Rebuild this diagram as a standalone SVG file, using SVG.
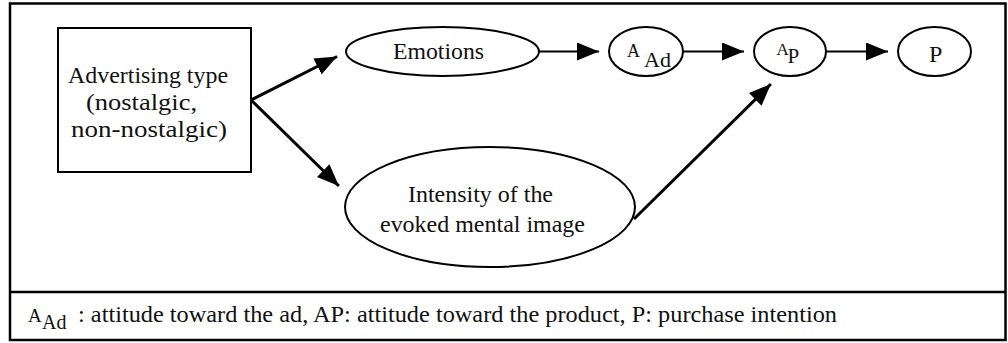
<svg xmlns="http://www.w3.org/2000/svg" width="1008" height="343" viewBox="0 0 1008 343">
  <style>
    .frame { fill: none; stroke: #000; stroke-width: 2.5; }
    .node { fill: #fff; stroke: #000; stroke-width: 2; }
    .edge { fill: none; stroke: #000; stroke-width: 2; }
    .edge.thick { stroke-width: 3; }
  </style>
  <defs>
    <marker id="arrow" viewBox="0 0 22 18" refX="22" refY="9" markerWidth="22" markerHeight="18" markerUnits="userSpaceOnUse" orient="auto">
      <path d="M0,0 L22,9 L0,18 Z" fill="#000"/>
    </marker>
  </defs>

  <rect width="1008" height="343" fill="#fff"/>

  <!-- outer frame with legend strip -->
  <g id="frame">
    <rect class="frame" x="10" y="3.5" width="995.5" height="336.5"/>
    <line class="frame" x1="10" y1="292" x2="1005.5" y2="292"/>
  </g>

  <!-- connectors -->
  <g id="connectors">
    <path class="edge thick" d="M251,100 L337.1,56.5" marker-end="url(#arrow)"/>
    <path class="edge thick" d="M251,100 L338.9,186" marker-end="url(#arrow)"/>
    <path class="edge thick" d="M634,219 L770.9,84" marker-end="url(#arrow)"/>
    <path class="edge" d="M539,51.5 L599,51.5" marker-end="url(#arrow)"/>
    <path class="edge" d="M683,51.5 L744,51.5" marker-end="url(#arrow)"/>
    <path class="edge" d="M826,51.5 L888,51.5" marker-end="url(#arrow)"/>
  </g>

  <!-- nodes -->
  <g font-family="Liberation Serif, Times New Roman, serif" font-size="24" fill="#111">
    <g id="advertising-type">
      <rect class="node" x="58" y="28" width="193" height="144"/>
      <text x="68" y="83" textLength="160" lengthAdjust="spacingAndGlyphs">Advertising type</text>
      <text x="86" y="110" textLength="111" lengthAdjust="spacingAndGlyphs">(nostalgic,</text>
      <text x="71" y="137" textLength="156" lengthAdjust="spacingAndGlyphs">non-nostalgic)</text>
    </g>

    <g id="emotions">
      <ellipse class="node" cx="442.5" cy="51.5" rx="96.5" ry="24.5"/>
      <text x="393" y="59" textLength="91" lengthAdjust="spacingAndGlyphs">Emotions</text>
    </g>

    <g id="attitude-ad">
      <ellipse class="node" cx="646" cy="51.5" rx="37" ry="24.5"/>
      <text x="627" y="57" font-size="18">A</text>
      <text x="644" y="66.5" font-size="22">Ad</text>
    </g>

    <g id="attitude-product">
      <ellipse class="node" cx="790" cy="51.5" rx="36" ry="24.5"/>
      <text x="776.5" y="55" font-size="17">A</text>
      <text x="787.5" y="63" font-size="21">P</text>
    </g>

    <g id="purchase-intention">
      <ellipse class="node" cx="934.5" cy="51.5" rx="36.5" ry="24.5"/>
      <text x="929" y="61.5">P</text>
    </g>

    <g id="mental-image">
      <ellipse class="node" cx="490" cy="207" rx="145" ry="60"/>
      <text x="408" y="202" textLength="145" lengthAdjust="spacingAndGlyphs">Intensity of the</text>
      <text x="380" y="232" textLength="205" lengthAdjust="spacingAndGlyphs">evoked mental image</text>
    </g>

    <!-- legend -->
    <g id="legend">
      <text x="28" y="322" font-size="19">A</text>
      <text x="42" y="328.5" font-size="20">Ad</text>
      <text x="78" y="322" textLength="759" lengthAdjust="spacingAndGlyphs">: attitude toward the ad, AP: attitude toward the product, P: purchase intention</text>
    </g>
  </g>
</svg>
